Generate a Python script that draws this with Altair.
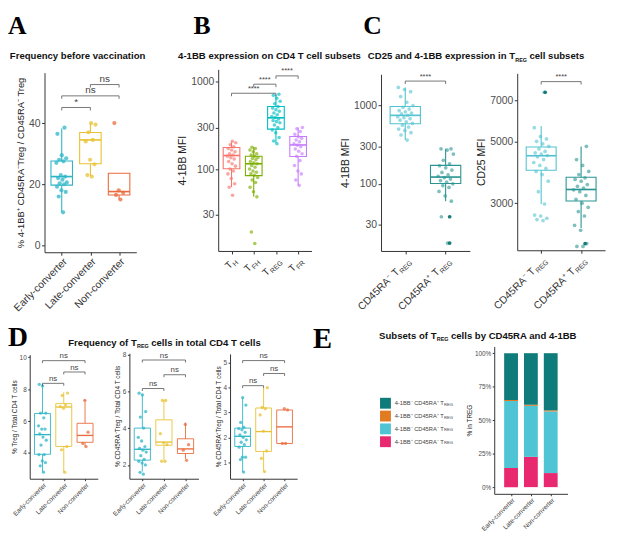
import json
import pandas as pd
import altair as alt

W, H = 609, 525
FONT = "Liberation Sans"
SERIF = "Liberation Serif"
AXC = "#333333"
LBC = "#4d4d4d"

# ---------------- data ----------------
CONVERTERS = ["Early-converter", "Late-converter", "Non-converter"]
CONV_COLORS = ["#2db6c7", "#e8c234", "#ea6b3d"]

# Panel A: % 4-1BB+ CD45RA- Treg / CD45RA- Treg
A_EARLY = [10.8, 16, 17.5, 18, 19.2, 20, 20.3, 20.6, 21.5, 22, 22.5, 23, 27, 27.5, 28, 28.5, 29.5, 36.5, 38.5]
A_LATE = [22.5, 23, 26.5, 28, 34, 34.5, 37, 39.5, 40]
A_NON = [15, 16.5, 17.2, 18, 40]
A_BOX = [(19.7, 22.5, 27.6, 10.9, 38.2), (26.7, 34.5, 36.9, 22.7, 40.0), (16.5, 17.6, 23.6, 15.0, 23.6)]
A_BRACKETS = [(1, 2, 45.1, "*"), (1, 3, 48.9, "ns"), (2, 3, 52.6, "ns")]
A_YTICKS = [0, 20, 40]

# Panel B: 4-1BB MFI on CD4 T cell subsets
B_NAMES = ["TH", "TFH", "TREG", "TFR"]
B_LABELS = [("T", "H"), ("T", "FH"), ("T", "REG"), ("T", "FR")]
B_COLORS = ["#F8766D", "#7CAE00", "#00BFC4", "#C77CFF"]
B_TH = [50, 62, 68, 78, 88, 95, 100, 108, 115, 122, 130, 135, 140, 145, 150, 158, 165, 172, 180, 190, 200, 208]
B_TFH = [14, 19, 48, 55, 62, 70, 75, 80, 85, 88, 92, 95, 100, 105, 110, 115, 118, 122, 128, 132, 136, 140,
         145, 150, 158, 165, 172, 178]
B_TREG = [195, 210, 230, 260, 280, 300, 320, 340, 350, 360, 375, 390, 400, 420, 440, 460, 480, 500, 520,
          560, 600, 650, 700, 720]
B_TFR = [65, 75, 88, 95, 110, 125, 140, 150, 160, 170, 180, 188, 195, 205, 215, 225, 235, 250, 270, 290, 300]
B_BOX = [(101, 143, 177, 62, 205), (84, 115, 140, 48, 179), (287, 387, 521, 197, 713), (139, 189, 236, 65, 299)]
B_BRACKETS = [(1, 3, 740, "****"), (2, 3, 940, "****"), (3, 4, 1170, "****")]
B_YTICKS = [30, 100, 300, 1000]

# Panel C: CD45RA- vs CD45RA+ Treg
C_NAMES = ["CD45RA⁻ TREG", "CD45RA⁺ TREG"]
C_LABELS = [("CD45RA⁻ T", "REG"), ("CD45RA⁺ T", "REG")]
C_COLORS = ["#52c3d0", "#2a9593"]
C_HL_COLOR = "#0b7470"
C1_NEG = [362, 420, 450, 480, 500, 530, 560, 590, 620, 650, 680, 700, 720, 750, 780, 800, 830, 860, 900,
          950, 1000, 1100, 1300, 1500, 1600, 1700]
C1_POS = [17.5, 38, 60, 70, 80, 90, 95, 100, 105, 110, 115, 120, 125, 130, 140, 150, 160, 170, 180,
          200, 240, 270, 280, 280]
C1_BOX = [(586, 748, 970, 362, 1700), (101, 122, 172, 60, 280)]
C1_HL = [(2, 38), (2, 17.5)]
C1_BRACKETS = [(1, 2, 2050, "****")]
C1_YTICKS = [30, 100, 300, 1000]
C2_NEG = [2600, 2620, 2650, 2700, 2720, 2980, 3300, 3600, 3800, 3900, 4000, 4100, 4200, 4300, 4400, 4450,
          4500, 4550, 4600, 4700, 4800, 4900, 5000, 5100, 5200, 5600, 7500]
C2_POS = [2100, 2100, 2150, 2400, 2500, 2700, 2800, 2900, 3000, 3100, 3200, 3300, 3350, 3400, 3450, 3500,
          3600, 3650, 3700, 3800, 3900, 4100, 4300, 4800]
C2_BOX = [(3939, 4440, 4775, 2980, 5680), (3057, 3360, 3715, 2445, 4790)]
C2_HL = [(1, 7500), (2, 2150)]
C2_BRACKETS = [(1, 2, 8190, "****")]
C2_YTICKS = [3000, 5000, 7000]

# Panel D: frequency of Treg cells in total CD4 T cells
D1_VALUES = [[2.8, 3.2, 3.4, 3.5, 3.9, 3.9, 4.5, 4.8, 5.0, 5.2, 5.5, 5.5, 5.7, 6.2, 6.5, 6.5, 8.2, 8.3],
             [2.8, 4.2, 4.4, 6.8, 6.9, 7.0, 7.6, 7.75],
             [4.4, 4.6, 5.3, 7.3]]
D1_BOX = [(3.92, 5.15, 6.47, 2.83, 8.31), (4.41, 6.88, 7.09, 2.79, 7.8), (4.67, 5.1, 5.86, 4.41, 7.33)]
D1_BRACKETS = [(1, 2, 8.36, "ns"), (2, 3, 9.07, "ns"), (1, 3, 9.78, "ns")]
D1_YTICKS = [4, 6, 8, 10]
D2_VALUES = [[1.5, 1.6, 2.0, 2.1, 2.2, 2.3, 2.5, 2.7, 2.8, 2.9, 3.0, 3.3, 3.5, 4.0, 4.6, 4.9, 5.8, 5.9],
             [2.2, 2.2, 3.1, 3.2, 3.7, 5.5, 5.5],
             [2.25, 2.8, 3.1, 4.2]]
D2_BOX = [(2.26, 2.85, 4.0, 1.64, 5.87), (3.07, 3.24, 4.45, 2.27, 5.55), (2.62, 2.87, 3.42, 2.32, 4.3)]
D2_BRACKETS = [(1, 2, 6.15, "ns"), (2, 3, 6.9, "ns"), (1, 3, 7.7, "ns")]
D2_YTICKS = [2, 4, 6, 8]
D3_VALUES = [[0.6, 1.1, 1.2, 1.2, 1.6, 1.7, 1.8, 1.9, 2.0, 2.1, 2.2, 2.3, 2.35, 2.4, 2.6, 3.3, 3.6],
             [0.62, 1.15, 1.45, 2.25, 2.9, 3.15, 3.2, 4.0],
             [1.75, 1.75, 3.1, 3.15]]
D3_BOX = [(1.63, 2.04, 2.37, 0.6, 3.6), (1.43, 2.23, 3.18, 0.64, 3.99), (1.75, 2.42, 3.1, 1.75, 3.1)]
D3_BRACKETS = [(1, 2, 4.08, "ns"), (2, 3, 4.57, "ns"), (1, 3, 5.09, "ns")]
D3_YTICKS = [1, 2, 3, 4, 5]

# Panel E: subsets of Treg (stacked, bottom -> top)
E_SUBSETS = ["4-1BB⁺ CD45RA⁻", "4-1BB⁻ CD45RA⁻", "4-1BB⁺ CD45RA⁺", "4-1BB⁻ CD45RA⁺"]
E_COLORS = ["#e8286f", "#4fc4d4", "#e07b22", "#0f7b7a"]
E_PCT = [[14.2, 50.1, 0.8, 34.9],   # Early-converter
         [22.6, 38.1, 0.8, 38.5],   # Late-converter
         [10.5, 46.0, 0.8, 42.7]]   # Non-converter
E_YTICKS = [0, 25, 50, 75, 100]

# Helvetica / Arial advance widths (1/1000 em) for placing subscripts
HB = {"F": 611, "r": 389, "e": 556, "q": 611, "u": 611, "n": 611, "c": 556, "y": 556, " ": 278, "o": 611,
      "f": 333, "T": 611, "C": 722, "D": 722, "2": 556, "5": 556, "a": 556, "d": 611, "4": 556, "-": 333,
      "1": 556, "B": 722, "x": 556, "p": 611, "s": 556, "i": 278, "S": 667, "b": 611, "t": 333, "l": 278,
      "R": 722, "E": 667, "G": 778, "H": 722}
HR = {"H": 722, "F": 611, "R": 722, "E": 667, "G": 778}


def tw(s, size, table):
    return sum(table.get(ch, 556) for ch in s) * size / 1000.0


layers = []
conv_expr = json.dumps(CONVERTERS) + "[datum.value - 1]"


def box_panel(groups, colors, values, box, brackets, xr, yr, ydom, ylog, yticks, ytitle,
              small=False, xlab_expr=None, manual_labels=None, highlight=None, ytitle_size=None,
              br_font=10, psize=16, popacity=0.7, lab_font=10.5):
    n = len(groups)
    xs = alt.Scale(domain=[0.4, n + 0.6], range=xr, nice=False, zero=False)
    if ylog:
        ys = alt.Scale(type="log", domain=ydom, range=yr, nice=False)
    else:
        ys = alt.Scale(type="linear", domain=ydom, range=yr, nice=False, zero=False)
    cs = alt.Scale(domain=groups, range=colors)
    pts = pd.DataFrame([{"g": g, "idx": i + 1, "v": v} for i, g in enumerate(groups) for v in values[i]])
    st = pd.DataFrame([{"g": g, "idx": i + 1, "xl": i + 1 - 0.375, "xh": i + 1 + 0.375,
                        "q1": b[0], "med": b[1], "q3": b[2], "lo": b[3], "hi": b[4]}
                       for i, (g, b) in enumerate(zip(groups, box))])
    br = pd.DataFrame([{"x1": a, "x2": b, "xm": (a + b) / 2.0, "y": y, "lab": lab}
                       for a, b, y, lab in brackets])
    tick = 2 if small else 3
    lw = 0.9 if small else 1.1
    if ytitle_size is None:
        ytitle_size = 6.5 if small else 10.5
    ykw = dict(orient="left", offset=-xr[0], values=yticks, grid=False, tickSize=tick,
               labelFontSize=lab_font, labelColor=LBC, labelFont=FONT, labelPadding=1.5,
               domainColor=AXC, tickColor=AXC, title=ytitle, titleFont=FONT,
               titleFontSize=ytitle_size, titleFontWeight="normal", titleColor="#222222",
               titlePadding=(2 if small else 3), format="d", labelOverlap=False)
    xkw = dict(orient="bottom", offset=yr[0] - H, values=list(range(1, n + 1)), grid=False, tickSize=tick,
               domainColor=AXC, tickColor=AXC, title=None, labelOverlap=False)
    if xlab_expr is not None:
        xkw.update(labelExpr=xlab_expr, labelAngle=315, labelFontSize=lab_font, labelColor="#333333",
                   labelFont=FONT, labelPadding=1)
    else:
        xkw["labels"] = False
    stroke = alt.Stroke("g:N", scale=cs, legend=None)
    out = []
    out.append(alt.Chart(st).mark_rule(strokeWidth=lw).encode(
        x=alt.X("idx:Q", scale=xs, axis=alt.Axis(**xkw)),
        y=alt.Y("lo:Q", scale=ys, axis=alt.Axis(**ykw)), y2="hi:Q", stroke=stroke))
    out.append(alt.Chart(st).mark_rect(fill="white", strokeWidth=lw).encode(
        x=alt.X("xl:Q", scale=xs, axis=None), x2="xh:Q",
        y=alt.Y("q1:Q", scale=ys, axis=None), y2="q3:Q", stroke=stroke))
    out.append(alt.Chart(st).mark_rule(strokeWidth=lw * 1.5).encode(
        x=alt.X("xl:Q", scale=xs, axis=None), x2="xh:Q",
        y=alt.Y("med:Q", scale=ys, axis=None), stroke=stroke))
    out.append(alt.Chart(pts).transform_window(k="row_number()", groupby=["g"]).transform_calculate(
        xj="datum.idx + ((datum.k * 0.618034) % 1 - 0.5) * 0.4").mark_circle(
        size=psize, opacity=popacity).encode(
        x=alt.X("xj:Q", scale=xs, axis=None), y=alt.Y("v:Q", scale=ys, axis=None),
        color=alt.Color("g:N", scale=cs, legend=None)))
    if highlight:
        hl = pd.DataFrame([{"idx": i, "v": v} for i, v in highlight])
        out.append(alt.Chart(hl).transform_calculate(xj="datum.idx + 0.1").mark_circle(
            size=psize, opacity=0.95, color=C_HL_COLOR).encode(
            x=alt.X("xj:Q", scale=xs, axis=None), y=alt.Y("v:Q", scale=ys, axis=None)))
    drop = 2.5 if small else 3
    out.append(alt.Chart(br).mark_rule(color="#555555", strokeWidth=0.8).encode(
        x=alt.X("x1:Q", scale=xs, axis=None), x2="x2:Q", y=alt.Y("y:Q", scale=ys, axis=None)))
    out.append(alt.Chart(br).transform_fold(["x1", "x2"], as_=["end", "xe"]).mark_rule(
        color="#555555", strokeWidth=0.8, y2Offset=drop).encode(
        x=alt.X("xe:Q", scale=xs, axis=None), y=alt.Y("y:Q", scale=ys, axis=None), y2="y:Q"))
    out.append(alt.Chart(br).mark_text(fontSize=br_font, baseline="bottom", dy=-0.5, color="#444444",
                                       font=FONT).encode(
        x=alt.X("xm:Q", scale=xs, axis=None), y=alt.Y("y:Q", scale=ys, axis=None), text="lab:N"))
    if manual_labels:
        fs, fsub = manual_labels[1], manual_labels[2]
        for i, (main, sub) in enumerate(manual_labels[0]):
            wsub = tw(sub, fsub, HR)
            out.append(alt.Chart(pd.DataFrame({"idx": [i + 1], "t": [main]})).mark_text(
                angle=315, align="right", baseline="alphabetic", dy=0.79 * fs, dx=-(wsub + 0.5),
                fontSize=fs, font=FONT, color="#333333").encode(
                x=alt.X("idx:Q", scale=xs, axis=None), y=alt.value(yr[0] + 5), text="t:N"))
            out.append(alt.Chart(pd.DataFrame({"idx": [i + 1], "t": [sub]})).mark_text(
                angle=315, align="right", baseline="alphabetic", dy=0.79 * fs + 2.5,
                fontSize=fsub, font=FONT, color="#333333").encode(
                x=alt.X("idx:Q", scale=xs, axis=None), y=alt.value(yr[0] + 5), text="t:N"))
    return out


def piece(txt, x, y, size, align="left", dy=0, bold=True, font=FONT, color="#111111"):
    return alt.Chart(pd.DataFrame({"t": [txt]})).mark_text(
        align=align, baseline="alphabetic", fontSize=size, fontWeight=("bold" if bold else "normal"),
        font=font, color=color, dy=dy).encode(x=alt.value(x), y=alt.value(y), text="t:N")


def sub_title(prefix, rest, start, y, size=9.7, subsize=5.5):
    x0 = start + tw(prefix, size, HB)
    xr = x0 + tw("REG", subsize, HB) + tw(" ", size, HB)
    return [piece(prefix, x0, y, size, align="right"),
            piece("REG", x0 + 0.3, y, subsize, dy=2.5),
            piece(rest, xr, y, size)]


# ---------------- panels ----------------
layers += box_panel(CONVERTERS, CONV_COLORS, [A_EARLY, A_LATE, A_NON], A_BOX, A_BRACKETS,
                    [37, 130], [244, 62], [-2.24, 56.5], False, A_YTICKS,
                    "% 4-1BB⁺ CD45RA⁻Treg / CD45RA⁻ Treg", xlab_expr=conv_expr, ytitle_size=9.5,
                    br_font=10, psize=18, popacity=0.75)
layers += box_panel(B_NAMES, B_COLORS, [B_TH, B_TFH, B_TREG, B_TFR], B_BOX, B_BRACKETS,
                    [213, 307.5], [242.7, 58.7], [11.5, 1390], True, B_YTICKS, "4-1BB MFI",
                    manual_labels=(B_LABELS, 10, 7), br_font=7.5, psize=13, popacity=0.65)
layers += box_panel(C_NAMES, C_COLORS, [C1_NEG, C1_POS], C1_BOX, C1_BRACKETS,
                    [378, 468], [242.7, 63.7], [13.9, 2500], True, C1_YTICKS, "4-1BB MFI",
                    manual_labels=(C_LABELS, 10.5, 7), highlight=C1_HL, br_font=7.5, psize=14,
                    popacity=0.6)
layers += box_panel(C_NAMES, C_COLORS, [C2_NEG, C2_POS], C2_BOX, C2_BRACKETS,
                    [516, 605], [242, 62.7], [2034, 8770], True, C2_YTICKS, "CD25 MFI",
                    manual_labels=(C_LABELS, 10.5, 7), highlight=C2_HL, br_font=7.5, psize=14,
                    popacity=0.6)
layers += box_panel(CONVERTERS, CONV_COLORS, D1_VALUES, D1_BOX, D1_BRACKETS,
                    [22, 91], [473.5, 347.7], [2.39, 10.16], False, D1_YTICKS,
                    "% Treg / Total CD4 T cells", small=True, xlab_expr=conv_expr,
                    br_font=8, psize=11, popacity=0.75, lab_font=6.5)
layers += box_panel(CONVERTERS, CONV_COLORS, D2_VALUES, D2_BOX, D2_BRACKETS,
                    [123, 193], [473.5, 346.3], [1.25, 8.07], False, D2_YTICKS,
                    "% CD45RA⁻Treg / Total CD4 T cells", small=True, xlab_expr=conv_expr,
                    br_font=8, psize=11, popacity=0.75, lab_font=6.5)
layers += box_panel(CONVERTERS, CONV_COLORS, D3_VALUES, D3_BOX, D3_BRACKETS,
                    [225, 293], [473.5, 347], [0.33, 5.36], False, D3_YTICKS,
                    "% CD45RA⁺Treg / Total CD4 T cells", small=True, xlab_expr=conv_expr,
                    br_font=8, psize=11, popacity=0.75, lab_font=6.5)

# Panel E stacked bars
e_rows = [{"idx": i + 1, "k": k, "s": s, "pct": E_PCT[i][k]}
          for i in range(len(CONVERTERS)) for k, s in enumerate(E_SUBSETS)]
e_df = pd.DataFrame(e_rows)
exs = alt.Scale(domain=[0.4, 3.6], range=[492.7, 567], nice=False, zero=False)
eys = alt.Scale(domain=[-5, 105], range=[488.8, 339.5], nice=False, zero=False)
ecs = alt.Scale(domain=E_SUBSETS, range=E_COLORS)
e_bars = alt.Chart(e_df).mark_bar(orient="vertical", size=14).encode(
    x=alt.X("idx:Q", scale=exs, axis=alt.Axis(
        orient="bottom", offset=488.8 - H, values=[1, 2, 3], grid=False, tickSize=2, domainColor=AXC,
        tickColor=AXC, title=None, labelExpr=conv_expr, labelAngle=315, labelFontSize=6.5,
        labelColor="#333333", labelFont=FONT, labelPadding=1, labelOverlap=False)),
    y=alt.Y("pct:Q", stack="zero", scale=eys, axis=alt.Axis(
        orient="left", offset=-492.7, values=E_YTICKS, grid=False, tickSize=2, domainColor=AXC,
        tickColor=AXC, labelExpr="datum.value + '%'", labelFontSize=6.5, labelColor=LBC, labelFont=FONT,
        labelPadding=1.5, title="% in TREG", titleFont=FONT, titleFontSize=6.5, titleFontWeight="normal",
        titleColor="#222222", titlePadding=2, labelOverlap=False)),
    color=alt.Color("s:N", scale=ecs, legend=None),
    order=alt.Order("k:Q"))
layers.append(e_bars)

# Panel E legend (top -> bottom)
leg_order = list(reversed(E_SUBSETS))
leg_df = pd.DataFrame({"s": leg_order, "main": [s + " T" for s in leg_order], "sub": ["REG"] * 4})
lys = alt.Scale(type="point", domain=leg_order, range=[397, 436], padding=0)
layers.append(alt.Chart(leg_df).mark_square(size=121, opacity=1).encode(
    x=alt.value(382.5), y=alt.Y("s:N", scale=lys, axis=None),
    color=alt.Color("s:N", scale=ecs, legend=None)))
layers.append(alt.Chart(leg_df).mark_text(align="right", baseline="middle", fontSize=5.8, font=FONT,
                                          color="#444444").encode(
    x=alt.value(441.5), y=alt.Y("s:N", scale=lys, axis=None), text="main:N"))
layers.append(alt.Chart(leg_df).mark_text(align="left", baseline="middle", fontSize=4.2, dy=1.5, font=FONT,
                                          color="#444444").encode(
    x=alt.value(441.8), y=alt.Y("s:N", scale=lys, axis=None), text="sub:N"))

# ---------------- titles & panel letters ----------------
layers.append(piece("Frequency before vaccination", 70.5, 48.5, 9.7, align="center"))
layers.append(piece("4-1BB expression on CD4 T cell subsets", 265, 48.5, 9.7, align="center"))
layers += sub_title("CD25 and 4-1BB expression in T", "cell subsets", 364.5, 48.5)
layers += sub_title("Frequency of T", "cells in total CD4 T cells", 61, 339)
layers += sub_title("Subsets of T", "cells by CD45RA and 4-1BB", 376, 331.5)
for letter, x, y, size in [("A", 0, 23, 26), ("B", 188, 23, 26), ("C", 360, 23, 26),
                           ("D", 0, 339, 28), ("E", 309, 341, 29)]:
    layers.append(piece(letter, x, y, size, font=SERIF, color="#000000"))

chart = alt.layer(*layers).resolve_scale(
    x="independent", y="independent", color="independent", stroke="independent"
).resolve_axis(x="independent", y="independent").properties(
    width=W, height=H, autosize=alt.AutoSizeParams(type="none"), padding=0
).configure_view(strokeWidth=0)

chart.save("out.html", embed_options={"renderer": "svg", "actions": False})
